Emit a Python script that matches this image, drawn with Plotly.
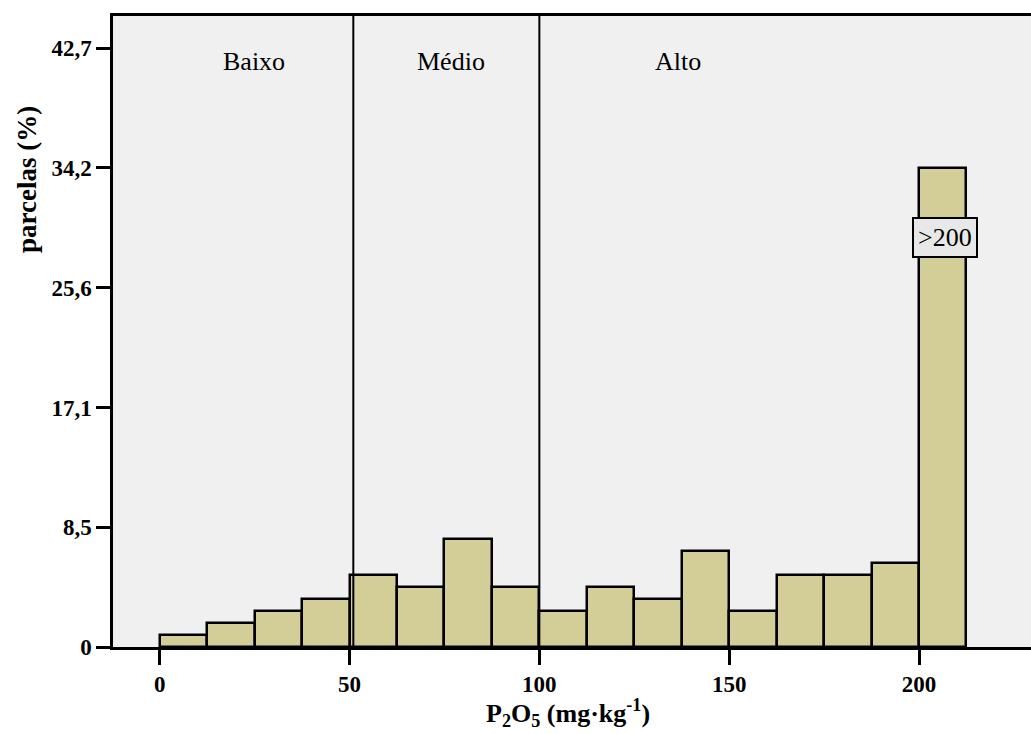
import plotly.graph_objects as go

# ---- data ----
bin_left = [0, 12.5, 25, 37.5, 50, 62.5, 75, 87.5, 100, 112.5, 125, 137.5, 150, 162.5, 175, 187.5, 200]
bin_width = 12.5
pct = [0.85, 1.71, 2.56, 3.42, 5.13, 4.27, 7.69, 4.27, 2.56, 4.27, 3.42, 6.84, 2.56, 5.13, 5.13, 5.98, 34.19]

y_tickvals = [0, 8.55, 17.09, 25.64, 34.19, 42.74]
y_ticktext = ["0", "8,5", "17,1", "25,6", "34,2", "42,7"]
x_tickvals = [0, 50, 100, 150, 200]
x_ticktext = ["0", "50", "100", "150", "200"]

class_limits = [51, 100]
class_names = ["Baixo", "Médio", "Alto"]
class_label_x = [24.9, 76.6, 136.6]
class_label_y = 41.8

over_label = ">200"
over_label_x = 206.8
over_label_y = 29.2

FONT = "Liberation Serif"

centers = [b + bin_width / 2 for b in bin_left]

fig = go.Figure()
fig.add_trace(go.Bar(
    x=centers, y=pct, width=bin_width,
    marker=dict(color="#d3ce97", line=dict(color="black", width=2.5)),
    hoverinfo="x+y",
))

for xl in class_limits:
    fig.add_shape(type="line", xref="x", yref="paper", x0=xl, x1=xl, y0=0, y1=1,
                  line=dict(color="black", width=2), layer="above")

for name, xx in zip(class_names, class_label_x):
    fig.add_annotation(x=xx, y=class_label_y, xref="x", yref="y", text=name, showarrow=False,
                       xanchor="center", yanchor="middle",
                       font=dict(family=FONT, size=26, color="black"))

fig.add_annotation(x=over_label_x, y=over_label_y, xref="x", yref="y", text=over_label, showarrow=False,
                   xanchor="center", yanchor="middle",
                   font=dict(family=FONT, size=26, color="black"), bgcolor="#e8e8e8",
                   bordercolor="black", borderwidth=2, borderpad=4)

# axis titles as annotations
fig.add_annotation(xref="paper", yref="paper", x=(27 - 113) / 918, y=(647 - 180) / 631,
                   xanchor="center", yanchor="middle",
                   text="<b>parcelas (%)</b>", textangle=-90, showarrow=False,
                   font=dict(family=FONT, size=27, color="black"))
fig.add_annotation(xref="paper", yref="paper", x=(568 - 113) / 918, y=-(713 - 647) / 631,
                   xanchor="center", yanchor="middle",
                   text="<b>P<sub>2</sub>O<sub>5</sub> (mg·kg<sup>-1</sup>)</b>", showarrow=False,
                   font=dict(family=FONT, size=26, color="black"))

fig.update_layout(
    width=1031, height=734,
    margin=dict(l=113, r=0, t=16, b=87),
    paper_bgcolor="white", plot_bgcolor="#f0f0f0",
    showlegend=False, bargap=0,
    font=dict(family=FONT, color="black"),
)
fig.update_xaxes(range=[-12.3, 229.5], tickvals=x_tickvals, ticktext=x_ticktext,
                 showgrid=False, zeroline=False, showline=True, linecolor="black", linewidth=2.5,
                 mirror=True, ticks="outside", ticklen=15, tickwidth=3, tickcolor="black",
                 tickfont=dict(family=FONT, size=23, color="black", weight="bold"))
fig.update_yaxes(range=[0, 45.03], tickvals=y_tickvals, ticktext=y_ticktext,
                 showgrid=False, zeroline=False, showline=True, linecolor="black", linewidth=2.5,
                 ticks="outside", ticklen=14, tickwidth=3, tickcolor="black",
                 tickfont=dict(family=FONT, size=23, color="black", weight="bold"))

fig.write_html("out.html", config={"displayModeBar": False},
               post_script="document.body.style.margin='0px';document.body.style.overflow='hidden';")
